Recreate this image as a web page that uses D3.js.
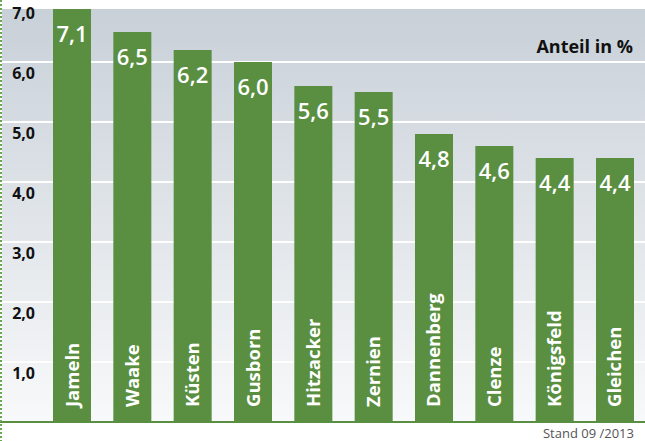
<!DOCTYPE html>
<html>
<head>
<meta charset="utf-8">
<script src="https://cdn.jsdelivr.net/npm/d3@7"></script>
<style>
  body { margin: 0; background: #fff; }
  svg { display: block; }
</style>
</head>
<body>
<div id="chart"></div>
<script>
// Data
const towns = ["Jameln", "Waake", "Küsten", "Gusborn", "Hitzacker", "Zernien", "Dannenberg", "Clenze", "Königsfeld", "Gleichen"];
const shares = [7.1, 6.5, 6.2, 6.0, 5.6, 5.5, 4.8, 4.6, 4.4, 4.4];
const yTicks = [1, 2, 3, 4, 5, 6, 7];

const width = 645, height = 441;
const plot = { left: 2, right: 645, top: 9, bottom: 422 };
const green = "#5a8f41";
const fontFam = "'Open Sans', 'DejaVu Sans', sans-serif";

const svg = d3.select("#chart").append("svg").attr("width", width).attr("height", height);

// Scales
const x = d3.scaleBand().domain(towns).range([53, 634]).paddingInner(0.37).paddingOuter(0);
const y = d3.scaleLinear().domain([0, 7]).range([plot.bottom, plot.bottom - 420]);

// Background gradient
const defs = svg.append("defs");
const grad = defs.append("linearGradient").attr("id", "bg").attr("x1", 0).attr("y1", 0).attr("x2", 0).attr("y2", 1);
grad.append("stop").attr("offset", "0%").attr("stop-color", "#c8d0d8");
grad.append("stop").attr("offset", "100%").attr("stop-color", "#f8f9fa");
defs.append("clipPath").attr("id", "clip").append("rect")
    .attr("x", plot.left).attr("y", plot.top)
    .attr("width", plot.right - plot.left).attr("height", plot.bottom - plot.top);

svg.append("rect")
    .attr("x", plot.left).attr("y", plot.top)
    .attr("width", plot.right - plot.left).attr("height", plot.bottom - plot.top)
    .attr("fill", "url(#bg)");

// Gridlines
svg.append("g").selectAll("line").data(yTicks.filter(t => y(t) > plot.top)).enter().append("line")
    .attr("x1", plot.left).attr("x2", plot.right)
    .attr("y1", d => y(d)).attr("y2", d => y(d))
    .attr("stroke", "#ffffff").attr("stroke-width", 2);

// Y tick labels (sit just below each gridline)
svg.append("g").selectAll("text").data(yTicks).enter().append("text")
    .attr("x", 35).attr("y", d => y(d) + 17)
    .attr("text-anchor", "end")
    .attr("font-family", fontFam).attr("font-weight", 700).attr("font-size", 16)
    .attr("fill", "#111111")
    .text(d => d3.format(".1f")(d).replace(".", ","));

// Bars
const bars = svg.append("g").attr("clip-path", "url(#clip)");
bars.selectAll("rect").data(towns).enter().append("rect")
    .attr("x", d => x(d))
    .attr("width", x.bandwidth())
    .attr("y", (d, i) => y(shares[i]))
    .attr("height", (d, i) => plot.bottom - y(shares[i]))
    .attr("fill", green);

// Value labels
svg.append("g").selectAll("text").data(towns).enter().append("text")
    .attr("x", d => x(d) + x.bandwidth() / 2)
    .attr("y", (d, i) => Math.max(y(shares[i]), plot.top) + 33)
    .attr("text-anchor", "middle")
    .attr("font-family", fontFam).attr("font-weight", 600).attr("font-size", 22)
    .attr("fill", "#ffffff")
    .text((d, i) => d3.format(".1f")(shares[i]).replace(".", ","));

// Category labels, rotated inside bars
svg.append("g").selectAll("text").data(towns).enter().append("text")
    .attr("transform", d => `translate(${x(d) + x.bandwidth() / 2 + 6.5},${plot.bottom - 15}) rotate(-90)`)
    .attr("font-family", fontFam).attr("font-weight", 700).attr("font-size", 18.5)
    .attr("fill", "#ffffff")
    .text(d => d);

// Baseline
svg.append("line")
    .attr("x1", 0).attr("x2", plot.right)
    .attr("y1", plot.bottom).attr("y2", plot.bottom)
    .attr("stroke", green).attr("stroke-width", 2);

// Dotted left border
svg.append("line")
    .attr("x1", 1).attr("x2", 1).attr("y1", 0).attr("y2", height)
    .attr("stroke", "#6aa84f").attr("stroke-width", 2).attr("stroke-dasharray", "2,2");

// Unit label
svg.append("text")
    .attr("x", 633).attr("y", 53)
    .attr("text-anchor", "end")
    .attr("font-family", fontFam).attr("font-weight", 700).attr("font-size", 18)
    .attr("fill", "#111111")
    .text("Anteil in %");

// Source note
svg.append("text")
    .attr("x", 634).attr("y", 438)
    .attr("text-anchor", "end")
    .attr("font-family", fontFam).attr("font-size", 13)
    .attr("fill", "#555555")
    .text("Stand 09 /2013");
</script>
</body>
</html>
